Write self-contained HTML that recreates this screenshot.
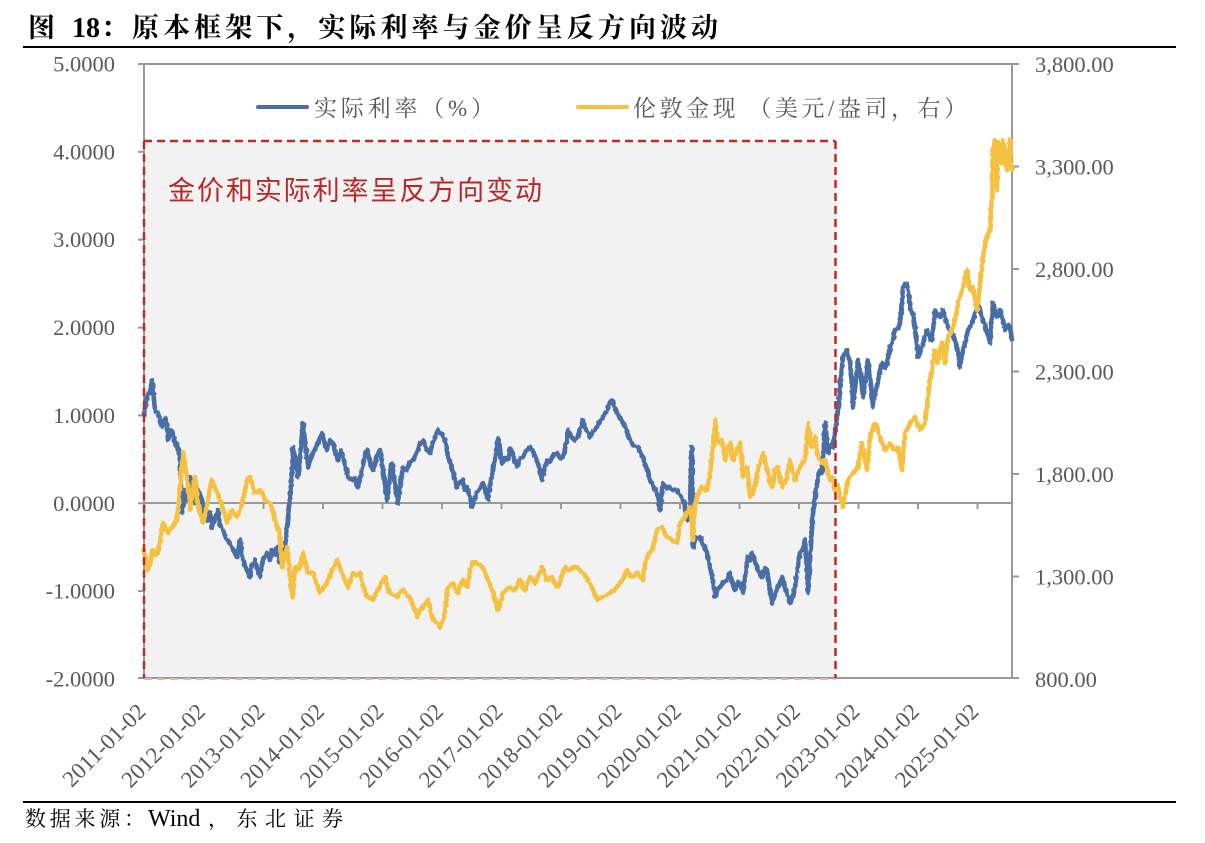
<!DOCTYPE html>
<html>
<head>
<meta charset="utf-8">
<style>
  html,body{margin:0;padding:0;background:#fff;}
  svg{display:block;}
  .tl{font-family:"Liberation Serif","Noto Serif CJK SC",serif;font-size:22.5px;fill:#595959;}
  .xl{font-family:"Liberation Serif","Noto Serif CJK SC",serif;font-size:23px;fill:#595959;}
</style>
</head>
<body>
<svg width="1205" height="843" viewBox="0 0 1205 843" xmlns="http://www.w3.org/2000/svg">
  <defs>
    <filter id="jit" filterUnits="userSpaceOnUse" x="0" y="0" width="1205" height="843">
      <feTurbulence type="fractalNoise" baseFrequency="0.35 0.25" numOctaves="1" seed="3" result="n"/>
      <feDisplacementMap in="SourceGraphic" in2="n" scale="3.5" xChannelSelector="R" yChannelSelector="G"/>
    </filter>
  </defs>
  <rect x="0" y="0" width="1205" height="843" fill="#fff"/>

  <!-- Title -->
  <text x="28" y="37" font-family="'Noto Serif CJK SC','Liberation Serif',serif" font-weight="bold" font-size="27" fill="#000">图</text>
  <text x="72" y="37" font-family="'Liberation Serif',serif" font-weight="bold" font-size="28" fill="#000">18</text>
  <text x="101" y="37" font-family="'Liberation Serif','Noto Serif CJK SC',serif" font-weight="bold" font-size="27" fill="#000" textLength="617" lengthAdjust="spacing">：原本框架下，实际利率与金价呈反方向波动</text>
  <line x1="23" y1="47" x2="1176" y2="47" stroke="#000" stroke-width="2"/>

  <!-- Shaded box fill -->
  <rect x="144" y="141" width="691.5" height="537" fill="#F2F2F2"/>

  <!-- zero line with year ticks -->
  <line x1="144" y1="503" x2="1012" y2="503" stroke="#999" stroke-width="2"/>
  <g stroke="#999" stroke-width="2">
    <line x1="144.5" y1="503" x2="144.5" y2="509"/>
    <line x1="204" y1="503" x2="204" y2="509"/>
    <line x1="263.5" y1="503" x2="263.5" y2="509"/>
    <line x1="323" y1="503" x2="323" y2="509"/>
    <line x1="382.5" y1="503" x2="382.5" y2="509"/>
    <line x1="442" y1="503" x2="442" y2="509"/>
    <line x1="501.5" y1="503" x2="501.5" y2="509"/>
    <line x1="561" y1="503" x2="561" y2="509"/>
    <line x1="620.5" y1="503" x2="620.5" y2="509"/>
    <line x1="680" y1="503" x2="680" y2="509"/>
    <line x1="739.5" y1="503" x2="739.5" y2="509"/>
    <line x1="799" y1="503" x2="799" y2="509"/>
    <line x1="858.5" y1="503" x2="858.5" y2="509"/>
    <line x1="918" y1="503" x2="918" y2="509"/>
    <line x1="977.5" y1="503" x2="977.5" y2="509"/>
  </g>

  <!-- Axes frame -->
  <g stroke="#999" stroke-width="2" fill="none">
    <line x1="138" y1="64" x2="1019" y2="64"/>
    <line x1="138" y1="678" x2="1019" y2="678"/>
    <line x1="144" y1="64" x2="144" y2="678"/>
    <line x1="1012" y1="64" x2="1012" y2="678"/>
    <line x1="138" y1="151.8" x2="144" y2="151.8"/>
    <line x1="138" y1="239.7" x2="144" y2="239.7"/>
    <line x1="138" y1="327.6" x2="144" y2="327.6"/>
    <line x1="138" y1="415.4" x2="144" y2="415.4"/>
    <line x1="138" y1="503.3" x2="144" y2="503.3"/>
    <line x1="138" y1="591.1" x2="144" y2="591.1"/>
    <line x1="1012" y1="166.5" x2="1019" y2="166.5"/>
    <line x1="1012" y1="269" x2="1019" y2="269"/>
    <line x1="1012" y1="371.5" x2="1019" y2="371.5"/>
    <line x1="1012" y1="474" x2="1019" y2="474"/>
    <line x1="1012" y1="576.5" x2="1019" y2="576.5"/>
  </g>

  <!-- Left tick labels -->
  <g class="tl" text-anchor="end">
    <text x="115" y="71.5">5.0000</text>
    <text x="115" y="159.3">4.0000</text>
    <text x="115" y="247.2">3.0000</text>
    <text x="115" y="335.1">2.0000</text>
    <text x="115" y="422.9">1.0000</text>
    <text x="115" y="510.8">0.0000</text>
    <text x="115" y="598.6">-1.0000</text>
    <text x="115" y="686.5">-2.0000</text>
  </g>
  <!-- Right tick labels -->
  <g class="tl">
    <text x="1035" y="72">3,800.00</text>
    <text x="1035" y="174.5">3,300.00</text>
    <text x="1035" y="277">2,800.00</text>
    <text x="1035" y="379.5">2,300.00</text>
    <text x="1035" y="482">1,800.00</text>
    <text x="1035" y="584.5">1,300.00</text>
    <text x="1035" y="687">800.00</text>
  </g>

  <!-- X labels -->
  <g class="xl" text-anchor="end">
    <text transform="translate(147,713) rotate(-45)">2011-01-02</text>
    <text transform="translate(206.5,713) rotate(-45)">2012-01-02</text>
    <text transform="translate(266,713) rotate(-45)">2013-01-02</text>
    <text transform="translate(325.5,713) rotate(-45)">2014-01-02</text>
    <text transform="translate(385,713) rotate(-45)">2015-01-02</text>
    <text transform="translate(444.5,713) rotate(-45)">2016-01-02</text>
    <text transform="translate(504,713) rotate(-45)">2017-01-02</text>
    <text transform="translate(563.5,713) rotate(-45)">2018-01-02</text>
    <text transform="translate(623,713) rotate(-45)">2019-01-02</text>
    <text transform="translate(682.5,713) rotate(-45)">2020-01-02</text>
    <text transform="translate(742,713) rotate(-45)">2021-01-02</text>
    <text transform="translate(801.5,713) rotate(-45)">2022-01-02</text>
    <text transform="translate(861,713) rotate(-45)">2023-01-02</text>
    <text transform="translate(920.5,713) rotate(-45)">2024-01-02</text>
    <text transform="translate(980,713) rotate(-45)">2025-01-02</text>
  </g>

  <g filter="url(#jit)">
  <!-- Blue series: real rate -->
  <polyline fill="none" stroke="#4A6EA6" stroke-width="4.6" stroke-linejoin="round" stroke-linecap="round" points="
144,415 147,397 150,392 152,380 155,410 158,413 160,420 162,427 165,418 167,423 168,440 171,430 173,432 175,445 177,443 180,457 182,513 185,490 188,500 190,477 193,495 195,503 198,490 202,500 205,515 207,520 210,512 212,528 215,518 218,510 220,525 223,530 226,538 230,543 233,550 237,557 240,540 243,560 246,568 250,577 252,565 255,560 258,572 260,577 263,560 267,553 270,560 272,550 275,555 277,547 280,563 283,558 285,547 288,517 290,495 292,473 293,447 296,462 298,477 301,445 303,423 306,450 308,467 311,458 313,453 317,445 322,433 325,445 327,450 330,440 333,443 336,455 338,460 341,450 343,457 346,468 348,477 352,480 355,478 358,487 362,470 365,455 367,450 370,462 373,470 377,455 380,450 383,470 387,500 390,475 392,463 395,485 398,503 401,480 403,467 407,470 410,462 413,460 417,452 420,445 423,440 427,450 430,453 434,440 438,430 442,435 445,440 448,457 451,465 453,473 455,480 457,487 460,482 463,480 465,490 467,487 470,497 472,507 475,498 477,493 480,488 483,483 486,492 488,500 491,480 493,467 496,455 498,438 500,450 502,463 505,458 508,460 510,448 512,450 515,462 517,467 520,458 523,457 527,450 530,447 533,452 537,460 540,470 542,480 545,468 547,460 550,462 553,455 557,453 560,458 563,457 566,445 568,430 572,438 575,440 577,437 580,430 583,420 586,430 590,437 593,432 597,427 600,422 603,417 607,410 610,403 612,400 615,408 617,413 620,418 623,423 627,432 630,440 633,445 637,447 640,452 643,457 647,470 650,480 653,485 657,493 660,510 662,490 663,483 667,488 670,487 673,490 677,490 680,495 683,500 686,512 688,520 690,505 691,470 692,447 693,547 696,538 700,537 703,545 705,547 708,558 710,567 713,580 715,597 718,588 720,587 724,582 727,580 730,573 733,585 735,590 738,582 740,583 743,593 746,570 748,557 750,560 752,553 755,562 757,567 760,575 762,577 765,568 767,570 770,590 772,603 775,595 777,590 780,582 782,577 785,588 787,593 790,603 793,595 795,587 798,565 800,553 803,548 805,540 807,570 808,593 811,545 813,513 816,490 818,477 820,470 822,473 824,440 825,423 827,440 828,453 831,445 833,447 835,432 837,420 840,387 843,357 845,353 847,350 850,365 852,380 853,407 856,380 858,360 861,378 863,397 866,375 868,360 871,385 873,407 875,395 877,387 880,370 882,363 885,368 887,363 890,347 893,340 895,330 898,328 900,323 902,300 903,287 905,285 907,283 909,295 910,307 913,315 915,327 917,345 918,357 921,350 923,343 925,335 927,330 930,338 932,340 934,320 935,310 938,315 940,317 943,310 946,320 948,327 950,330 952,333 955,340 957,347 959,360 960,367 962,355 963,350 966,340 968,330 971,325 973,320 976,310 978,303 980,310 982,317 985,325 987,333 990,343 992,315 993,303 995,312 997,317 1000,310 1003,320 1005,330 1008,325 1010,327 1012,340"/>

  <!-- Yellow series: gold -->
  <polyline fill="none" stroke="#F5C143" stroke-width="4.6" stroke-linejoin="round" stroke-linecap="round" points="
144,550 146,560 148,570 151,558 153,550 156,555 158,553 161,535 163,523 166,530 168,533 171,528 173,527 175,522 177,520 179,500 180,487 182,465 183,453 185,465 187,477 189,495 190,510 193,490 195,477 197,495 198,507 201,515 203,523 206,510 208,500 210,488 212,480 215,488 217,493 220,500 222,507 225,515 227,523 230,515 232,510 235,515 237,517 240,510 242,503 245,490 247,480 250,477 253,487 255,493 258,492 260,490 263,495 265,500 268,502 270,503 273,512 275,520 278,528 280,537 282,567 285,555 287,547 290,575 292,597 294,580 295,567 298,570 300,567 302,558 303,553 306,565 308,573 311,572 313,573 317,585 320,593 323,588 327,583 330,575 332,570 335,565 337,560 340,568 342,573 345,580 348,587 351,578 353,573 357,575 360,573 363,585 367,597 370,598 373,600 376,593 378,590 382,582 385,577 388,588 390,593 393,595 397,597 400,592 403,590 407,595 410,597 413,605 417,617 420,610 423,607 426,603 428,600 431,612 433,620 436,622 438,623 440,627 443,620 445,613 447,595 448,587 451,585 453,583 456,590 458,593 461,583 463,580 465,585 467,587 470,572 472,563 475,562 477,563 480,565 483,567 486,575 488,580 491,588 493,593 496,602 498,610 501,600 503,593 506,590 510,587 513,590 515,590 518,583 520,580 523,588 525,590 528,582 530,577 533,580 535,583 539,575 542,567 545,575 547,580 550,578 552,577 555,583 558,587 562,575 565,567 568,570 570,570 574,567 577,567 580,570 583,573 587,578 590,583 594,592 597,600 600,598 603,597 607,595 610,593 614,590 617,587 620,583 622,580 625,575 627,570 630,575 632,577 635,575 638,573 641,578 643,580 645,565 647,557 650,552 652,550 655,540 657,530 660,528 662,527 665,533 667,537 670,538 672,540 675,542 677,543 679,530 680,523 683,520 685,517 688,510 690,507 693,540 695,505 697,497 700,490 702,487 705,490 707,490 709,480 710,473 712,455 713,447 715,420 717,435 718,443 720,442 722,440 724,450 725,460 728,450 730,443 732,455 733,460 736,452 738,447 740,443 742,465 743,477 745,470 747,467 749,485 750,497 752,495 753,493 756,480 758,470 761,460 763,453 766,465 768,473 770,482 772,487 774,475 775,470 778,467 780,478 782,487 785,482 787,477 789,465 790,460 793,472 795,480 798,472 800,467 803,462 805,460 807,440 808,423 810,440 812,447 814,440 815,437 817,450 818,457 820,460 822,463 824,460 825,460 828,473 830,480 832,477 835,490 838,485 840,497 843,507 846,490 848,480 851,475 853,473 856,470 858,467 860,455 862,443 865,460 867,470 869,450 870,437 873,428 875,423 878,430 880,437 883,445 885,450 888,446 890,443 893,448 895,450 898,447 900,460 902,470 904,445 905,433 908,428 910,423 913,420 915,417 918,425 920,430 923,426 925,423 927,405 928,397 930,380 932,370 934,355 935,350 937,358 938,363 940,350 942,343 944,355 945,363 947,345 948,337 951,332 953,327 956,315 958,303 961,295 963,287 965,278 967,270 969,285 970,290 972,288 973,287 975,300 977,310 979,295 980,283 982,268 983,257 985,245 987,237 989,232 990,230 991,210 992,197 993,150 994,143 995,140 996,165 997,190 998,143 1000,150 1002,163 1003,140 1005,155 1007,170 1009,150 1010,140 1011,160 1012,170"/>
  </g>

  <!-- Dashed red box border -->
  <g fill="none" stroke="#BE2A27" stroke-width="2.5" stroke-dasharray="8,5">
    <line x1="144" y1="141" x2="835.5" y2="141"/>
    <line x1="144" y1="141" x2="144" y2="678"/>
    <line x1="835.5" y1="141" x2="835.5" y2="678"/>
  </g>
  <line x1="144" y1="679" x2="835.5" y2="679" stroke="#E6B3B1" stroke-width="2" stroke-dasharray="8,5"/>

  <!-- Red annotation -->
  <text x="168" y="200" font-family="'Noto Sans CJK SC','WenQuanYi Zen Hei',sans-serif" font-size="27" fill="#B8282A" textLength="374" lengthAdjust="spacing">金价和实际利率呈反方向变动</text>

  <!-- Legend -->
  <line x1="258" y1="107" x2="307" y2="107" stroke="#4A6EA6" stroke-width="4" stroke-linecap="round"/>
  <text x="314" y="116" font-family="'Liberation Serif','Noto Serif CJK SC',serif" font-size="23" fill="#595959" textLength="180" lengthAdjust="spacing">实际利率（%）</text>
  <line x1="578" y1="107" x2="627" y2="107" stroke="#F5C143" stroke-width="4" stroke-linecap="round"/>
  <text x="633" y="116" font-family="'Liberation Serif','Noto Serif CJK SC',serif" font-size="23" fill="#595959" textLength="334" lengthAdjust="spacing">伦敦金现 （美元/盎司，右）</text>

  <!-- Footer -->
  <line x1="23" y1="802" x2="1176" y2="802" stroke="#000" stroke-width="2"/>
  <text x="25" y="826" font-family="'Liberation Serif','Noto Serif CJK SC',serif" font-size="21" fill="#000" textLength="120" lengthAdjust="spacing">数据来源：</text>
  <text x="148" y="826" font-family="'Liberation Serif',serif" font-size="24" fill="#000">Wind</text>
  <text x="208" y="826" font-family="'Liberation Serif','Noto Serif CJK SC',serif" font-size="21" fill="#000" textLength="135" lengthAdjust="spacing">，东北证券</text>
</svg>
</body>
</html>
